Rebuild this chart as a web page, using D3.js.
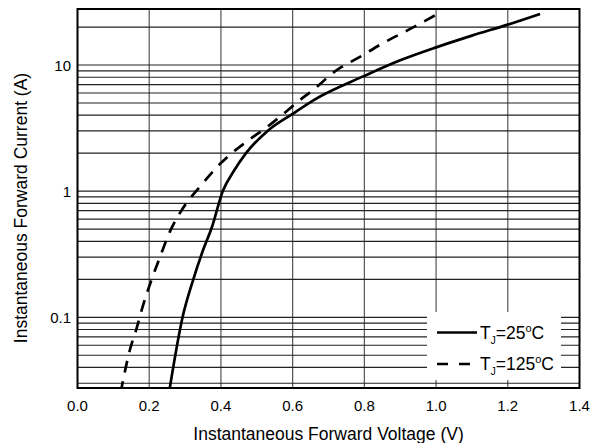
<!DOCTYPE html>
<html>
<head>
<meta charset="utf-8">
<script src="https://cdn.jsdelivr.net/npm/d3@7"></script>
<style>
  body { margin: 0; background: #fff; }
  text { font-family: Arial, "Liberation Sans", sans-serif; fill: #000; }
</style>
</head>
<body>
<script>
// forward voltage (V) / current (A)
var v25  = [0.255, 0.293, 0.323, 0.350, 0.375, 0.405, 0.435, 0.47, 0.53, 0.60, 0.66, 0.80, 0.90, 1.00, 1.10, 1.20, 1.29];
var i25  = [0.025, 0.1, 0.2, 0.34, 0.52, 1.0, 1.43, 2.0, 3.0, 4.1, 5.3, 8.2, 10.9, 13.8, 17.1, 20.9, 25.4];
var v125 = [0.12, 0.146, 0.165, 0.183, 0.207, 0.230, 0.258, 0.291, 0.342, 0.40, 0.43, 0.47, 0.53, 0.57, 0.61, 0.66, 0.72, 0.79, 0.85, 0.92, 1.00];
var i125 = [0.025, 0.055, 0.082, 0.125, 0.2, 0.3, 0.48, 0.71, 1.09, 1.67, 2.0, 2.45, 3.25, 4.0, 5.0, 6.45, 9.0, 11.7, 14.8, 18.8, 25.0];

var xTicks = [0, 0.2, 0.4, 0.6, 0.8, 1.0, 1.2, 1.4];
var yTicks = [0.1, 1, 10];
var yGrid = [0.03,0.04,0.05,0.06,0.07,0.08,0.09,0.1,0.2,0.3,0.4,0.5,0.6,0.7,0.8,0.9,1,2,3,4,5,6,7,8,9,10,20];

var W = 598, H = 443;
var pL = 77.5, pR = 579.5, pT = 9, pB = 388;

var x = d3.scaleLinear().domain([0, 1.4]).range([pL, pR]);
var y = d3.scaleLog().domain([0.0275, 27.8]).range([pB, pT]);

var svg = d3.select("body").append("svg")
  .attr("width", W)
  .attr("height", H);

svg.append("clipPath").attr("id", "clip")
  .append("rect")
  .attr("x", pL).attr("y", pT)
  .attr("width", pR - pL).attr("height", pB - pT);

// grid
svg.append("g")
  .selectAll("line")
  .data(xTicks.slice(1, -1))
  .enter().append("line")
  .attr("x1", d => x(d)).attr("x2", d => x(d))
  .attr("y1", pT).attr("y2", pB)
  .attr("stroke", "#555").attr("stroke-width", 1.2);

svg.append("g")
  .selectAll("line")
  .data(yGrid)
  .enter().append("line")
  .attr("x1", pL).attr("x2", pR)
  .attr("y1", d => y(d)).attr("y2", d => y(d))
  .attr("stroke", "#222").attr("stroke-width", 1.2);

// curves
var line = d3.line()
  .x(d => x(d[0])).y(d => y(d[1]))
  .curve(d3.curveMonotoneX);

svg.append("path")
  .datum(d3.zip(v25, i25))
  .attr("clip-path", "url(#clip)")
  .attr("d", line)
  .attr("fill", "none")
  .attr("stroke", "#000")
  .attr("stroke-width", 2.7);

svg.append("path")
  .datum(d3.zip(v125, i125))
  .attr("clip-path", "url(#clip)")
  .attr("d", line)
  .attr("fill", "none")
  .attr("stroke", "#000")
  .attr("stroke-width", 2.7)
  .attr("stroke-dasharray", "12,9");

// frame
svg.append("rect")
  .attr("x", pL).attr("y", pT)
  .attr("width", pR - pL).attr("height", pB - pT)
  .attr("fill", "none")
  .attr("stroke", "#000")
  .attr("stroke-width", 2);

// tick labels
svg.append("g")
  .selectAll("text")
  .data(xTicks)
  .enter().append("text")
  .attr("x", d => x(d))
  .attr("y", 411)
  .attr("text-anchor", "middle")
  .style("font-size", "15px")
  .text(d => d.toFixed(1));

svg.append("g")
  .selectAll("text")
  .data(yTicks)
  .enter().append("text")
  .attr("x", 71)
  .attr("y", d => y(d) + 5.5)
  .attr("text-anchor", "end")
  .style("font-size", "15px")
  .text(d => d);

// axis titles
svg.append("text")
  .attr("x", (pL + pR) / 2)
  .attr("y", 440)
  .attr("text-anchor", "middle")
  .style("font-size", "17.5px")
  .text("Instantaneous Forward Voltage (V)");

svg.append("text")
  .attr("transform", "translate(27,208) rotate(-90)")
  .attr("text-anchor", "middle")
  .style("font-size", "17.5px")
  .text("Instantaneous Forward Current (A)");

// legend
var lg = svg.append("g");
lg.append("rect")
  .attr("x", 427).attr("y", 312)
  .attr("width", 134).attr("height", 68)
  .attr("fill", "#fff");

var items = [["25", null], ["125", "11,11"]];
items.forEach(function(it, i){
  var ly = 332.5 + i * 31.5;
  lg.append("line")
    .attr("x1", 437).attr("x2", 477)
    .attr("y1", ly).attr("y2", ly)
    .attr("stroke", "#000")
    .attr("stroke-width", 2.7)
    .attr("stroke-dasharray", it[1]);
  var t = lg.append("text")
    .attr("x", 480)
    .attr("y", ly + 6)
    .style("font-size", "17.5px");
  t.append("tspan").text("T");
  t.append("tspan").attr("dy", 5).style("font-size", "10px").text("J");
  t.append("tspan").attr("dy", -5).text("=" + it[0]);
  t.append("tspan").attr("dy", -7).style("font-size", "11px").text("o");
  t.append("tspan").attr("dy", 7).text("C");
});
</script>
</body>
</html>
